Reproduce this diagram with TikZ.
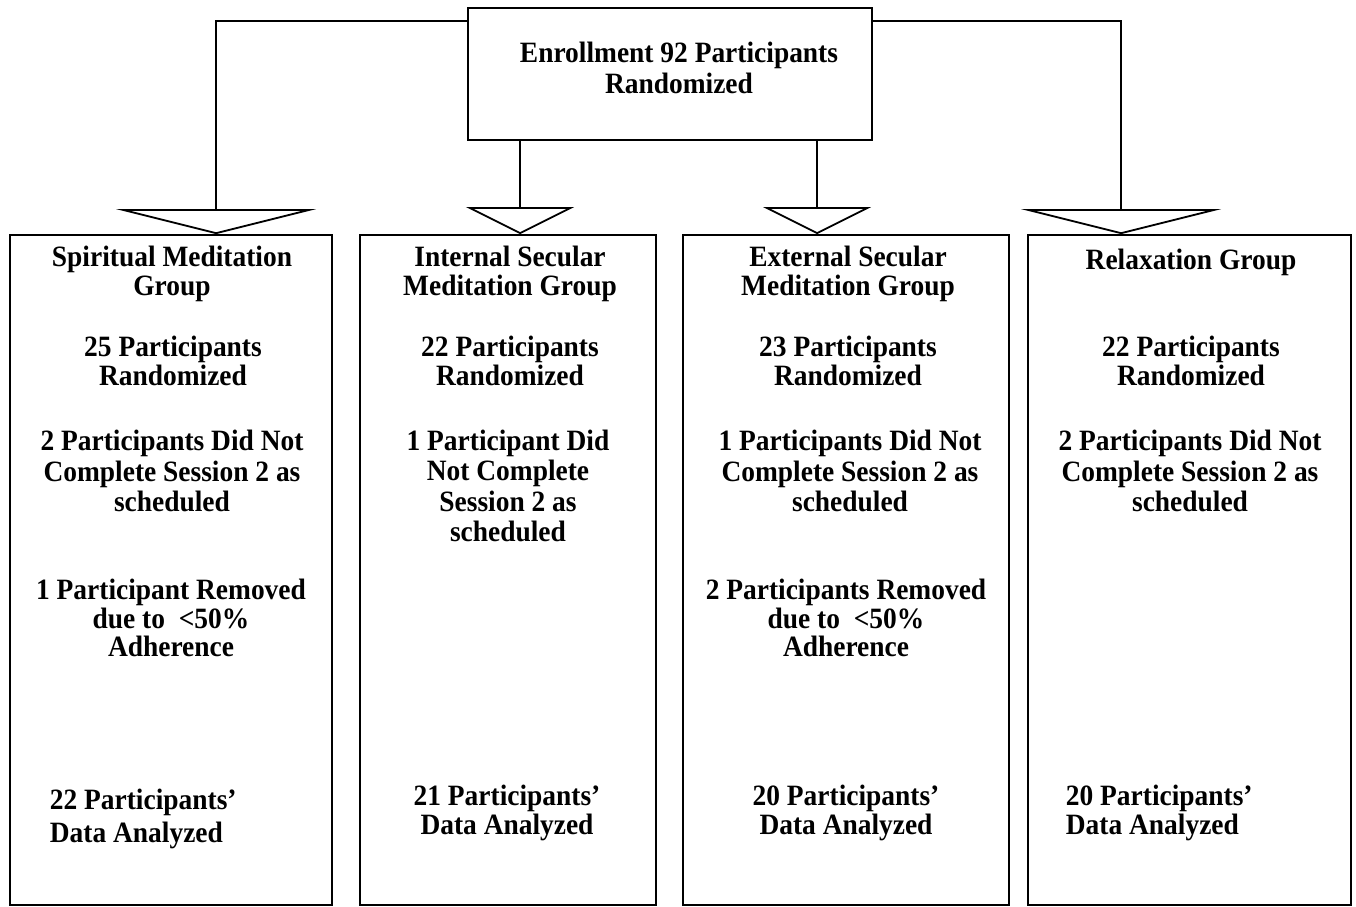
\documentclass[tikz,border=0pt]{standalone}
\usepackage{fontspec}
\setmainfont{Liberation Serif}[FakeStretch=0.93]
\usetikzlibrary{arrows.meta,calc}

\tikzset{
  grpbox/.style={draw, minimum height=670pt, inner sep=0pt},
  txt/.style={font=\bfseries\fontsize{29.5}{28.5}\selectfont, align=center, inner sep=0pt},
  wide/.style={-{Triangle[open, length=25pt, width=200pt]}},
  narrow/.style={-{Triangle[open, length=27pt, width=108pt]}}
}

\begin{document}
\begin{tikzpicture}[x=1pt, y=-1pt, line width=1.8pt]
    \useasboundingbox (0,0) rectangle (1356,906);

    % Enrollment box
    \node[draw, minimum width=404pt, minimum height=132pt, inner sep=0pt] (enroll) at (670,74) {};
    \node[txt] (enrolltxt) at (679,68) {Enrollment 92 Participants\\[2pt]Randomized};

    % Group boxes
    \node[grpbox, minimum width=322pt] (spir) at (171,570) {};
    \node[grpbox, minimum width=296pt] (intsec) at (508,570) {};
    \node[grpbox, minimum width=326pt] (extsec) at (846,570) {};
    \node[grpbox, minimum width=323pt] (relax) at (1189.5,570) {};

    % Connectors
    \draw[wide] ($(enroll.north west)+(0,14)$) -| ($(spir.north west)+(207,0)$);
    \draw[narrow] ($(enroll.south west)+(53,0)$) -- ($(intsec.north west)+(161,0)$);
    \draw[narrow] ($(enroll.south west)+(350,0)$) -- ($(extsec.north west)+(135,0)$);
    \draw[wide] ($(enroll.north east)+(0,14)$) -| ($(relax.north west)+(94,0)$);

    % Spiritual meditation
    \node[txt] (s1) at (172,274) {Spiritual Meditation\\Group};
    \node[txt] (s2) at (173,361) {25 Participants\\Randomized};
    \node[txt] (s3) at (172,471) {2 Participants Did Not\\[2pt]Complete Session 2 as\\[2pt]scheduled};
    \node[txt] (s4) at (171,618) {1 Participant Removed\\due to~~<50\%\\Adherence};
    \node[txt, anchor=west, align=left] (s5) at (49,819) {22 Participants’\\[4pt]Data Analyzed};

    % Internal secular meditation
    \node[txt] (i1) at (510,274) {Internal Secular\\Meditation Group};
    \node[txt] (i2) at (510,361) {22 Participants\\Randomized};
    \node[txt] (i3) at (508,486) {1 Participant Did\\[2pt]Not Complete\\[2pt]Session 2 as\\[2pt]scheduled};
    \node[txt] (i5) at (507,813) {21 Participants’\\Data Analyzed};

    % External secular meditation
    \node[txt] (e1) at (848,274) {External Secular\\Meditation Group};
    \node[txt] (e2) at (848,361) {23 Participants\\Randomized};
    \node[txt] (e3) at (850,471) {1 Participants Did Not\\[2pt]Complete Session 2 as\\[2pt]scheduled};
    \node[txt] (e4) at (846,618) {2 Participants Removed\\due to~~<50\%\\Adherence};
    \node[txt] (e5) at (846,813) {20 Participants’\\Data Analyzed};

    % Relaxation
    \node[txt] (r1) at (1191,262) {Relaxation Group};
    \node[txt] (r2) at (1191,361) {22 Participants\\Randomized};
    \node[txt] (r3) at (1190,471) {2 Participants Did Not\\[2pt]Complete Session 2 as\\[2pt]scheduled};
    \node[txt, anchor=west, align=left] (r5) at (1065,813) {20 Participants’\\Data Analyzed};

\end{tikzpicture}
\end{document}
